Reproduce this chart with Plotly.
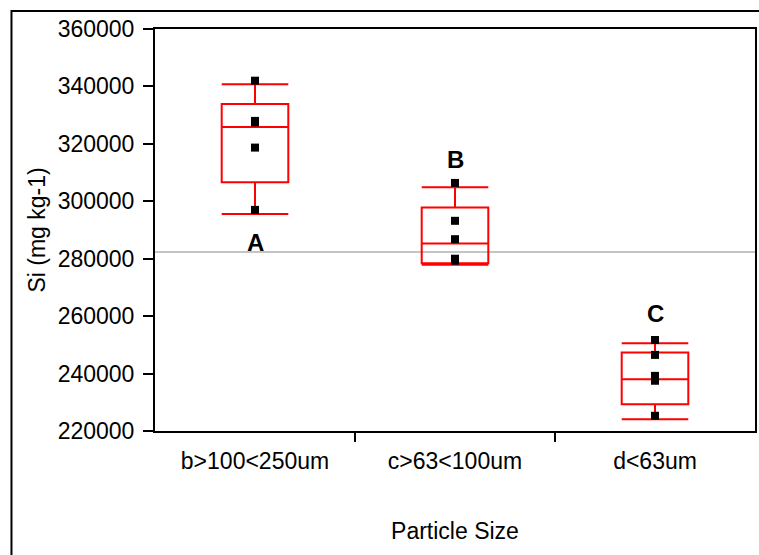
import plotly.graph_objects as go

# Particle-size classes
categories = ["b>100<250um", "c>63<100um", "d<63um"]
group_letters = ["A", "B", "C"]

# Individual Si measurements (mg kg-1) per class
si_values = [
    [342000, 328000, 327500, 318700, 297000],
    [306400, 293200, 286800, 280000, 279300],
    [251700, 246500, 239200, 237500, 225300],
]

# Box summary per class
upper_fence = [340800, 304900, 250600]
q3_values = [333900, 297800, 247300]
medians = [325900, 285300, 238000]
q1_values = [306600, 278400, 229300]
lower_fence = [295600, 277900, 224100]

# Letter label heights
letter_y = [285500, 314500, 260800]

grand_mean = 282300
y_ticks = [220000, 240000, 260000, 280000, 300000, 320000, 340000, 360000]

FONT = "Liberation Sans, Arial, sans-serif"

fig = go.Figure()

for i, cat in enumerate(categories):
    fig.add_trace(go.Box(
        x=[i],
        q1=[q1_values[i]], median=[medians[i]], q3=[q3_values[i]],
        lowerfence=[lower_fence[i]], upperfence=[upper_fence[i]],
        width=0.333, whiskerwidth=1,
        line=dict(color="#FF0000", width=2),
        fillcolor="rgba(0,0,0,0)",
        boxpoints=False, showlegend=False, name=cat,
    ))
    fig.add_trace(go.Scatter(
        x=[i] * len(si_values[i]), y=si_values[i], mode="markers",
        marker=dict(symbol="square", size=8, color="black"),
        showlegend=False,
    ))
    fig.add_annotation(
        x=i, y=letter_y[i], text="<b>%s</b>" % group_letters[i],
        showarrow=False, font=dict(family=FONT, size=24, color="black"),
        xanchor="center", yanchor="middle",
    )

# Grand mean reference line
fig.add_shape(type="line", xref="paper", yref="y", x0=0, x1=1,
              y0=grand_mean, y1=grand_mean,
              line=dict(color="#C4C4C4", width=2), layer="below")

# Outer frame around the whole graphic
fig.add_shape(type="rect", xref="paper", yref="paper",
              x0=-0.2392, x1=1.3, y0=-0.6, y1=1.0448,
              line=dict(color="black", width=2))

fig.update_layout(
    width=759, height=555,
    margin=dict(l=155, r=2, t=29, b=124),
    paper_bgcolor="white", plot_bgcolor="white",
    font=dict(family=FONT, size=23, color="black"),
    xaxis=dict(
        range=[-0.5, 2.5], tickvals=[0, 1, 2], ticktext=categories,
        ticks="", showgrid=False, zeroline=False,
        showline=True, linecolor="black", linewidth=2, mirror=True,
        ticklabelstandoff=8,
        title=dict(text="Particle Size", standoff=50,
                   font=dict(family=FONT, size=23)),
        tickfont=dict(family=FONT, size=23),
    ),
    xaxis2=dict(
        overlaying="x", anchor="y", side="bottom",
        range=[-0.5, 2.5], tickvals=[0.5, 1.5],
        ticks="outside", ticklen=10, tickwidth=2, tickcolor="black",
        showticklabels=False, showgrid=False, zeroline=False, showline=False,
    ),
    yaxis=dict(
        range=[220000, 360000], tickvals=y_ticks, tickformat="d",
        ticks="outside", ticklen=10, tickwidth=2, tickcolor="black",
        showgrid=False, zeroline=False,
        showline=True, linecolor="black", linewidth=2, mirror=True,
        ticklabelstandoff=4,
        title=dict(text="Si (mg kg-1)", standoff=6,
                   font=dict(family=FONT, size=23)),
        tickfont=dict(family=FONT, size=23),
    ),
)

# Dummy trace bound to the boundary-tick axis so it renders
fig.add_trace(go.Scatter(x=[None], y=[None], xaxis="x2", yaxis="y",
                         showlegend=False, hoverinfo="skip"))

fig.write_html("out.html")
